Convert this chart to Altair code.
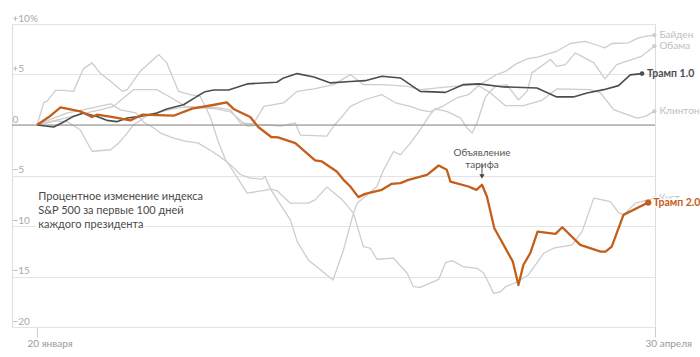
import altair as alt
import pandas as pd

# ---- data (day 0 = 20 January, day 100 = 30 April; value = % change) ----
trump2_days = [0,1.9,3.8,7.0,8.9,9.7,12.3,15.1,17.0,22.1,25.1,28.5,30.7,31.8,34.5,35.8,37.9,39.0,41.8,45.0,
               46.1,48.5,49.6,50.7,52.0,53.1,55.8,57.4,58.8,60.1,63.1,65.0,66.3,66.9,69.8,71.1,72.0,72.8,74.0,77.0,
               77.9,78.7,79.8,81.0,83.9,85.0,87.9,91.2,92.0,93.0,94.9,98.9]
trump2_vals = [0,0.79,1.75,1.35,0.79,1.02,0.79,0.46,1.02,0.92,1.62,1.98,2.24,1.59,0.79,-0.2,-1.19,-1.23,-1.79,-3.51,
               -3.61,-4.6,-5.43,-6.09,-7.14,-6.82,-6.42,-5.82,-5.75,-5.43,-4.93,-4.01,-4.43,-5.6,-6.09,-6.42,-5.92,-7.08,-10.22,-13.53,
               -15.84,-13.86,-12.7,-10.56,-10.78,-10.12,-11.87,-12.54,-12.54,-12.04,-8.9,-7.68]

trump1_days = [0,2.7,4.0,5.9,7.5,9.7,11.3,12.9,14.6,16.7,19.4,21.0,23.7,25.9,27.2,28.6,31.0,34.0,38.8,39.9,
               42.1,44.8,47.5,50.7,53.1,55.8,58.8,62.0,66.1,69.0,71.5,75.5,80.9,84.1,86.8,89.0,91.7,94.1,96.0,97.9]
trump1_vals = [0,-0.2,0.2,0.85,1.19,0.85,0.46,0.33,0.69,0.85,1.19,1.59,2.01,2.84,3.3,3.47,3.47,4.07,4.23,4.66,
               5.09,4.76,4.17,4.3,4.39,4.82,4.66,3.33,3.23,4.0,4.07,3.77,3.67,2.78,2.78,3.17,3.5,3.9,4.96,5.09]

obama_days = [0,1.1,1.6,3.0,4.3,5.9,7.5,8.9,10.2,11.9,13.8,14.6,16.7,19.7,21.0,22.9,24.8,26.4,28.0,29.4,
              30.5,31.6,34.0,35.5,37.0,37.8,39.6,41.0,42.1,43.9,47.9,49.6,51.2,51.8,53.1,55.0,56.1,57.7,58.8,60.4,
              62.0,63.4,64.4,66.3,68.5,69.6,70.4,71.2,72.5,73.1,74.2,76.0,77.9,79.3,80.1,83.1,84.1,85.5,87.1,90.1,
              91.9,93.8,97.8,99.9]
obama_vals = [0,2.24,2.34,3.43,3.43,3.33,5.56,6.15,5.16,4.33,3.33,3.5,5.32,6.97,6.15,3.33,3.0,2.84,0.85,-1.79,
              -3.44,-4.43,-6.75,-6.6,-6.45,-6.35,-8.08,-9.4,-11.55,-13.36,-15.35,-12.37,-8.73,-7.74,-7.08,-6.09,-4.43,-2.62,-2.95,-1.79,
              -0.47,0.85,1.59,1.35,0.7,-0.3,-0.8,0.2,2.68,3.17,3.83,4.0,2.5,3.33,5.16,6.48,5.8,5.98,7.14,6.15,
              4.56,5.98,6.8,7.8]

biden_days = [0,3,5,7,8.9,11.9,13.2,14.6,15.6,17.5,20,22,24,29,31.3,34,36.9,39.6,41.8,42.6,
              46.9,48,49.4,50.7,53,55.8,58,60.4,62,63.6,65.8,67.9,69.8,71.7,74.4,75.8,77.4,79.3,81.2,82.8,
              84.1,86.3,88.7,90.3,91.9,93,95.7,97.3,98.7,99.9]
biden_vals = [0,0.4,0.3,-0.5,-2.6,-2.45,-1.8,-0.8,0,0.8,1.3,1.6,1.8,1.6,1.3,-0.1,0,-0.1,0.2,-1.0,
              -1.1,-0.1,0.85,1.85,2.5,3.0,2.2,1.85,1.5,1.3,1.9,2.68,3.0,4.0,5.0,5.3,6.0,6.55,6.75,7.07,
              7.3,8.07,8.29,7.97,7.64,8.07,8.14,8.63,8.79,8.89]

clinton_days = [0,4,8,10.2,12.4,15.6,19.4,22,24,29.4,31.3,32.9,35,36.7,39.9,42.1,44.8,48,50.7,52.8,
                56.1,59.9,62,66.9,71.2,73.4,75.8,78.7,81.7,84.1,89.5,91.2,93.3,97.1,98.4,99.9]
clinton_vals = [0,0.6,1.2,1.5,1.85,3.5,3.5,2.6,1.85,1.7,1.5,0.2,0.1,1.85,2.18,3.33,3.57,4.0,4.99,4.0,
                4.0,3.83,3.5,3.8,4.0,3.17,1.91,1.91,2.44,3.57,3.5,3.17,1.52,0.69,0.85,1.35]

bush_days = [0,2,4.9,7.5,11.9,13.5,16,17.2,18.9,20,22.1,24,26.1,28.3,30.2,31.6,32.9,34.5,36.4,36.9,
             37.8,38.8,41,43.9,45,46.9,49.4,51.2,52.8,53.9,55,57.7,59.9,60.9,62,65,66.1,67.2,69,71.2,
             72.3,73.9,75,75.8,77.4,79.5,82,83.6,86.6,88.2,90.1,92.8,94.1,94.9,96.8,98.9,99.8]
bush_vals = [0,0.5,1.2,1.5,2.1,1.5,1.2,0.3,-0.3,-0.8,-1.3,-1.6,-1.8,-2.6,-3.4,-4.1,-4.9,-5.26,-5.36,-5.1,
             -6.35,-6.49,-7.74,-7.74,-7.41,-6.15,-7.41,-8.73,-12.04,-12.2,-13.29,-13.19,-14.68,-16.01,-16.07,-15.28,-13.63,-13.43,-14.03,-14.19,
             -14.68,-16.67,-16.51,-16.01,-15.62,-14.85,-12.7,-12.2,-11.87,-10.56,-7.24,-7.58,-8.67,-8.9,-7.74,-7.41,-7.24]

y_ticks = [-20, -15, -10, -5, 0, 5, 10]
x_ticks = [0, 100]
x_tick_labels = ["20 января", "30 апреля"]

title_text = "Процентное изменение индекса\nS&P 500 за первые 100 дней\nкаждого президента"
note_text = "Объявление\nтарифа"
note_day = 72

# ---- tables ----
series = [
    ("Байден", biden_days, biden_vals, "gray"),
    ("Обама", obama_days, obama_vals, "gray"),
    ("Клинтон", clinton_days, clinton_vals, "gray"),
    ("Куст", bush_days, bush_vals, "gray"),
    ("Трамп 1.0", trump1_days, trump1_vals, "t1"),
    ("Трамп 2.0", trump2_days, trump2_vals, "t2"),
]
rows = []
ends = []
for name, ds, vs, grp in series:
    for i, (d, v) in enumerate(zip(ds, vs)):
        rows.append({"name": name, "day": d, "value": v, "grp": grp, "i": i})
    ends.append({"name": name, "day": ds[-1], "value": vs[-1], "grp": grp})
df = pd.DataFrame(rows)
ends_df = pd.DataFrame(ends)

FONT = "Lato"
ORANGE = "#c45e1b"
DARK = "#4d4d4d"
GRAY = "#cdcdcd"

xs = alt.Scale(domain=[-4.05, 100], nice=False, zero=False)
ys = alt.Scale(domain=[-20, 10], nice=False, zero=False)

X = alt.X("day:Q", scale=xs, title=None,
          axis=alt.Axis(values=x_ticks,
                        labelExpr="datum.value == 0 ? '%s' : '%s'" % tuple(x_tick_labels),
                        grid=False, domain=False, ticks=True, tickSize=10, tickColor="#cccccc",
                        labelAlign="left", labelOffset=-10, labelPadding=1,
                        labelColor="#9a9a9a", labelFontSize=10, labelFont=FONT))
Y = alt.Y("value:Q", scale=ys, title=None,
          axis=alt.Axis(values=y_ticks,
                        labelExpr="datum.value == 10 ? '+10%' : datum.value > 0 ? '+' + datum.value : datum.value < 0 ? '\u2212' + abs(datum.value) : '0'",
                        grid=True, gridColor="#e4e4e4", gridWidth=1, domain=False, ticks=False, tickSize=0,
                        labelAlign="left", labelBaseline="alphabetic", labelOffset=-3, labelPadding=0,
                        labelColor="#a8a8a8", labelFontSize=10, labelFont=FONT))

base = alt.Chart(df)

gray_lines = base.transform_filter("datum.grp == 'gray'").mark_line(
    color=GRAY, strokeWidth=1.3, strokeJoin="round").encode(x=X, y=Y, detail="name:N", order="i:Q")

zero_rule = alt.Chart(pd.DataFrame({"v": [0]})).mark_rule(color="#8a8a8a", strokeWidth=1).encode(
    y=alt.Y("v:Q", scale=ys))

t1_line = base.transform_filter("datum.grp == 't1'").mark_line(
    color=DARK, strokeWidth=1.6, strokeJoin="round").encode(x="day:Q", y="value:Q", order="i:Q")
t2_line = base.transform_filter("datum.grp == 't2'").mark_line(
    color=ORANGE, strokeWidth=2.3, strokeJoin="round").encode(x="day:Q", y="value:Q", order="i:Q")

eb = alt.Chart(ends_df)
gray_dots = eb.transform_filter("datum.grp == 'gray'").mark_circle(color=GRAY, size=18, opacity=1).encode(
    x="day:Q", y="value:Q")
t1_dot = eb.transform_filter("datum.grp == 't1'").mark_circle(color=DARK, size=22, opacity=1).encode(
    x="day:Q", y="value:Q")
t2_dot = eb.transform_filter("datum.grp == 't2'").mark_circle(color=ORANGE, size=40, opacity=1).encode(
    x="day:Q", y="value:Q")

gray_labels = eb.transform_filter("datum.grp == 'gray'").mark_text(
    align="left", baseline="middle", dx=5, font=FONT, fontSize=10, color="#bdbdbd").encode(
    x="day:Q", y="value:Q", text="name:N")
t1_label = eb.transform_filter("datum.grp == 't1'").mark_text(
    align="left", baseline="middle", dx=5, font=FONT, fontSize=10.5, fontWeight="bold", color=DARK).encode(
    x="day:Q", y="value:Q", text="name:N")
t2_halo = eb.transform_filter("datum.grp == 't2'").mark_text(
    align="left", baseline="middle", dx=5, font=FONT, fontSize=10.5, fontWeight="bold",
    color="white", stroke="white", strokeWidth=3).encode(x="day:Q", y="value:Q", text="name:N")
t2_label = eb.transform_filter("datum.grp == 't2'").mark_text(
    align="left", baseline="middle", dx=5, font=FONT, fontSize=10.5, fontWeight="bold", color=ORANGE).encode(
    x="day:Q", y="value:Q", text="name:N")

note_df = pd.DataFrame({"day": [note_day], "text": [note_text], "ty": [-2.78],
                        "a1": [-3.85], "a2": [-4.95], "tip": [-5.1]})
nb = alt.Chart(note_df)
note = nb.mark_text(align="center", baseline="middle", font=FONT, fontSize=10, color="#555555",
                    lineBreak="\n", lineHeight=11.5).encode(x="day:Q", y="ty:Q", text="text:N")
arrow = nb.mark_rule(color="#555555", strokeWidth=1).encode(x="day:Q", y="a1:Q", y2="a2:Q")
head = nb.mark_point(shape="triangle-down", filled=True, color="#444444", size=28, opacity=1).encode(
    x="day:Q", y="tip:Q")

desc_df = pd.DataFrame({"day": [0.2], "value": [-7.08], "text": [title_text]})
db = alt.Chart(desc_df)
desc_halo = db.mark_text(align="left", baseline="middle", font=FONT, fontSize=11, lineBreak="\n",
                         lineHeight=14, color="white", stroke="white", strokeWidth=5).encode(
    x="day:Q", y="value:Q", text="text:N")
desc = db.mark_text(align="left", baseline="middle", font=FONT, fontSize=11, lineBreak="\n",
                    lineHeight=14, color="#4a4a4a").encode(x="day:Q", y="value:Q", text="text:N")

chart = alt.layer(
    gray_lines, zero_rule, desc_halo, desc, t1_line, t2_line,
    gray_dots, t1_dot, t2_dot, gray_labels, t1_label, t2_halo, t2_label,
    note, arrow, head,
).properties(
    width=643, height=303,
    autosize=alt.AutoSizeParams(type="none"),
    padding={"left": 12, "top": 24, "right": 45, "bottom": 30},
).configure_view(stroke=None).configure(background="white")

chart.save("out.html", embed_options={"renderer": "svg", "actions": False})
